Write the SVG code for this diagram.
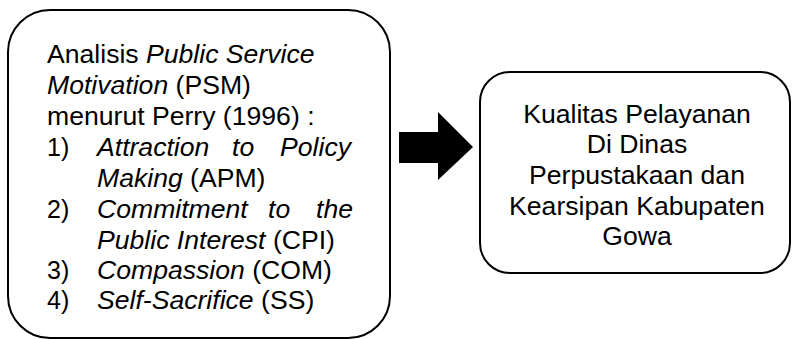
<svg xmlns="http://www.w3.org/2000/svg" width="792" height="339" viewBox="0 0 792 339">
<style>
.box{fill:#fff;stroke:#000;stroke-width:2}
.t{font-family:"Liberation Sans",Arial,sans-serif;font-size:26.6px;fill:#000}
.n{font-family:"Liberation Sans",Arial,sans-serif;font-size:25px;fill:#000}
.i{font-style:italic}
.c{text-anchor:middle}
.e{text-anchor:end}
</style>
<rect width="792" height="339" fill="#fff"/>
<g id="node-psm">
<rect class="box" x="8" y="10" width="382" height="328" rx="42" ry="42"/>
<text class="t" x="47" y="63">Analisis <tspan class="i">Public Service</tspan></text>
<text class="t" x="47" y="94"><tspan class="i">Motivation</tspan> (PSM)</text>
<text class="t" x="47" y="125">menurut Perry (1996) :</text>
<text class="n" x="47" y="156">1)</text>
<text class="t i" x="97" y="156">Attraction</text>
<text class="t i" x="232" y="156">to</text>
<text class="t i e" x="351" y="156">Policy</text>
<text class="t" x="97" y="187"><tspan class="i">Making</tspan> (APM)</text>
<text class="n" x="47" y="218">2)</text>
<text class="t i" x="97" y="218">Commitment</text>
<text class="t i" x="268" y="218">to</text>
<text class="t i e" x="353" y="218">the</text>
<text class="t" x="97" y="249"><tspan class="i">Public Interest</tspan> (CPI)</text>
<text class="n" x="47" y="279">3)</text>
<text class="t" x="97" y="279"><tspan class="i">Compassion</tspan> (COM)</text>
<text class="n" x="47" y="309">4)</text>
<text class="t" x="97" y="309"><tspan class="i">Self-Sacrifice</tspan> (SS)</text>
</g>
<g id="connectors">
<polygon points="399,132 438,132 438,112 473,147 438,180 438,163 399,163" fill="#000"/>
</g>
<g id="node-kualitas">
<rect class="box" x="480" y="72" width="310" height="201" rx="30" ry="30"/>
<text class="t c" x="637" y="123">Kualitas Pelayanan</text>
<text class="t c" x="637" y="153">Di Dinas</text>
<text class="t c" x="637" y="184">Perpustakaan dan</text>
<text class="t c" x="637" y="215">Kearsipan Kabupaten</text>
<text class="t c" x="637" y="245">Gowa</text>
</g>
</svg>
